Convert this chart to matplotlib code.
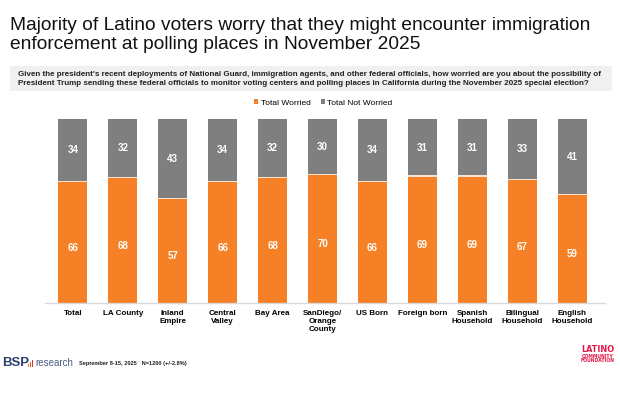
import matplotlib.pyplot as plt
import numpy as np
from matplotlib.patches import Rectangle

plt.rcParams['font.family'] = ['Liberation Sans', 'DejaVu Sans']

groups = ['Total', 'LA County', 'Inland\nEmpire', 'Central\nValley', 'Bay Area',
          'SanDiego/\nOrange\nCounty', 'US Born', 'Foreign born', 'Spanish\nHousehold',
          'Bilingual\nHousehold', 'English\nHousehold']
worried = [66, 68, 57, 66, 68, 70, 66, 69, 69, 67, 59]
not_worried = [34, 32, 43, 34, 32, 30, 34, 31, 31, 33, 41]

orange = '#F58025'
gray = '#7F7F7F'

fig = plt.figure(figsize=(6.2, 3.93), dpi=100)
W, H = 620, 393

def fx(px):
    return px / W

def fy(py):
    return 1 - py / H

# title
fig.text(fx(10), fy(17), 'Majority of Latino voters worry that they might encounter immigration\n'
         'enforcement at polling places in November 2025',
         ha='left', va='top', fontsize=13.8, linespacing=1.12, color='#111111')

# question box
fig.patches.append(Rectangle((fx(10), fy(91)), fx(602), 25 / H, transform=fig.transFigure,
                             facecolor='#F0F0F0', edgecolor='none', zorder=0))
fig.text(fx(18), fy(79), "Given the president's recent deployments of National Guard, immigration agents, and other federal officials, how worried are you about the possibility of\n"
         "President Trump sending these federal officials to monitor voting centers and polling places in California during the November 2025 special election?",
         ha='left', va='center', fontsize=5.75, fontweight='bold', linespacing=1.3, color='#222222')

ax = fig.add_axes([fx(45), fy(303), 560 / W, 184 / H])
x = np.arange(len(groups))
bw = 0.58
ax.bar(x, worried, bw, color=orange, label='Total Worried', zorder=2)
ax.bar(x, not_worried, bw, bottom=worried, color=gray, label='Total Not Worried', zorder=2)
# thin light divider between segments
ax.bar(x, 0.6, bw, bottom=np.array(worried) - 0.3, color='#FBE3D0', zorder=3)

for i in range(len(groups)):
    ax.text(x[i], worried[i] / 2 - 3, str(worried[i]), ha='center', va='center',
            color='white', fontsize=7, fontweight='bold', zorder=4)
    ax.text(x[i], worried[i] + not_worried[i] / 2, str(not_worried[i]), ha='center', va='center',
            color='white', fontsize=7, fontweight='bold', zorder=4)

ax.set_xlim(-0.56, 10.66)
ax.set_ylim(0, 100)
ax.set_yticks([])
ax.set_xticks(x)
ax.set_xticklabels(groups, fontsize=5.8, fontweight='bold', linespacing=1.25)
ax.tick_params(axis='x', length=0, pad=5)
for s in ['top', 'right', 'left']:
    ax.spines[s].set_visible(False)
ax.spines['bottom'].set_color('#D9D9D9')
ax.spines['bottom'].set_linewidth(1)

leg = ax.legend(loc='center', bbox_to_anchor=(0.497, 1.087), ncol=2, frameon=False,
                fontsize=6, handlelength=0.5, handleheight=0.5, handletextpad=0.3,
                columnspacing=1.2)

# footer: BSP research logo
fig.text(fx(2), fy(363), 'BSP', ha='left', va='center', fontsize=9.5, fontweight='bold',
         color='#2C3E6B')
for k, (hh, c) in enumerate([(3, '#F58025'), (5, '#E8542A'), (7, '#D9342B')]):
    fig.patches.append(Rectangle((fx(27.5 + k * 2.2), fy(367)), 1.5 / W, hh / H,
                                 transform=fig.transFigure, facecolor=c, edgecolor='none'))
fig.text(fx(35), fy(363), 'research', ha='left', va='center', fontsize=7,
         color='#4A5B82')
fig.text(fx(79), fy(364), 'September 8-15, 2025   N=1200 (+/-2.8%)', ha='left', va='center',
         fontsize=4.1, fontweight='bold', color='#222222')

# footer: Latino Community Foundation
red = '#E5194A'
fig.text(fx(598), fy(349), 'LATINO', ha='center', va='center', fontsize=6.5, fontweight='bold',
         color=red, fontstretch='condensed', family='DejaVu Sans')
fig.text(fx(598), fy(356.5), 'COMMUNITY', ha='center', va='center', fontsize=3.3, fontweight='bold',
         color=red, family='DejaVu Sans')
fig.text(fx(598), fy(361), 'FOUNDATION', ha='center', va='center', fontsize=3.3, fontweight='bold',
         color=red, family='DejaVu Sans')

fig.savefig('out.png', dpi=100)
